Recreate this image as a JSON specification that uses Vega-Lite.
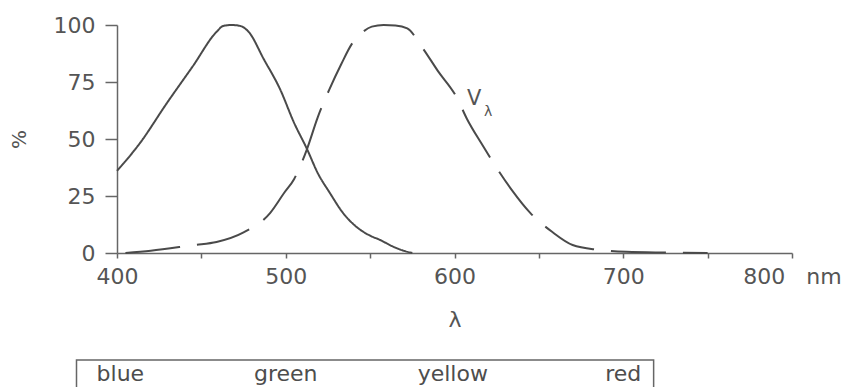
{
  "$schema": "https://vega.github.io/schema/vega-lite/v6.json",
  "width": 675,
  "height": 228,
  "autosize": {"type": "none"},
  "padding": {"left": 117, "top": 25, "right": 50, "bottom": 134},
  "background": "white",
  "view": {"stroke": null},
  "config": {
    "font": "DejaVu Sans",
    "axis": {"grid": false, "domainColor": "#666", "tickColor": "#666", "labelColor": "#555", "titleColor": "#555", "labelFont": "DejaVu Sans", "titleFont": "DejaVu Sans", "titleFontWeight": "normal", "domainWidth": 1.5, "tickWidth": 1.5}
  },
  "datasets": {
    "curves": [
      {"nm": 400, "pct": 36, "curve": "blue cones"},
      {"nm": 413.6, "pct": 48.2, "curve": "blue cones"},
      {"nm": 429.6, "pct": 65.8, "curve": "blue cones"},
      {"nm": 445, "pct": 82, "curve": "blue cones"},
      {"nm": 459, "pct": 97, "curve": "blue cones"},
      {"nm": 463, "pct": 99.6, "curve": "blue cones"},
      {"nm": 468, "pct": 100, "curve": "blue cones"},
      {"nm": 473, "pct": 99.6, "curve": "blue cones"},
      {"nm": 478, "pct": 97, "curve": "blue cones"},
      {"nm": 487, "pct": 85, "curve": "blue cones"},
      {"nm": 496.6, "pct": 71.9, "curve": "blue cones"},
      {"nm": 505, "pct": 57, "curve": "blue cones"},
      {"nm": 512.6, "pct": 45.6, "curve": "blue cones"},
      {"nm": 519, "pct": 35, "curve": "blue cones"},
      {"nm": 526, "pct": 26.5, "curve": "blue cones"},
      {"nm": 534, "pct": 17.5, "curve": "blue cones"},
      {"nm": 542, "pct": 11.4, "curve": "blue cones"},
      {"nm": 550, "pct": 7.6, "curve": "blue cones"},
      {"nm": 556, "pct": 5.7, "curve": "blue cones"},
      {"nm": 563, "pct": 3, "curve": "blue cones"},
      {"nm": 569, "pct": 1.2, "curve": "blue cones"},
      {"nm": 575, "pct": 0, "curve": "blue cones"},
      {"nm": 405, "pct": 0, "curve": "V"},
      {"nm": 420, "pct": 1, "curve": "V"},
      {"nm": 445.6, "pct": 3.5, "curve": "V"},
      {"nm": 459, "pct": 4.8, "curve": "V"},
      {"nm": 475, "pct": 9, "curve": "V"},
      {"nm": 490.7, "pct": 17.5, "curve": "V"},
      {"nm": 499, "pct": 26.3, "curve": "V"},
      {"nm": 505, "pct": 32.5, "curve": "V"},
      {"nm": 512.6, "pct": 45.6, "curve": "V"},
      {"nm": 519, "pct": 59.6, "curve": "V"},
      {"nm": 526, "pct": 72, "curve": "V"},
      {"nm": 533, "pct": 83, "curve": "V"},
      {"nm": 539, "pct": 91.5, "curve": "V"},
      {"nm": 545, "pct": 96.5, "curve": "V"},
      {"nm": 551, "pct": 99.3, "curve": "V"},
      {"nm": 558, "pct": 100, "curve": "V"},
      {"nm": 565, "pct": 99.8, "curve": "V"},
      {"nm": 572, "pct": 98.5, "curve": "V"},
      {"nm": 581, "pct": 90, "curve": "V"},
      {"nm": 590, "pct": 80, "curve": "V"},
      {"nm": 601.5, "pct": 68, "curve": "V"},
      {"nm": 607.4, "pct": 58.8, "curve": "V"},
      {"nm": 616, "pct": 48, "curve": "V"},
      {"nm": 625.8, "pct": 36.4, "curve": "V"},
      {"nm": 634, "pct": 27.6, "curve": "V"},
      {"nm": 645, "pct": 17.5, "curve": "V"},
      {"nm": 658, "pct": 9.2, "curve": "V"},
      {"nm": 670, "pct": 3.5, "curve": "V"},
      {"nm": 685, "pct": 1.4, "curve": "V"},
      {"nm": 702, "pct": 0.5, "curve": "V"},
      {"nm": 725, "pct": 0.2, "curve": "V"},
      {"nm": 750, "pct": 0, "curve": "V"}
    ],
    "band": [{"start": 376, "end": 718}],
    "bandLabels": [
      {"label": "blue", "nm": 402},
      {"label": "green", "nm": 500},
      {"label": "yellow", "nm": 599},
      {"label": "red", "nm": 700}
    ],
    "vmain": [{"nm": 611.6, "pct": 67.5, "label": "V"}],
    "vsub": [{"nm": 620, "pct": 62, "label": "λ"}]
  },
  "layer": [
    {
      "data": {"name": "curves"},
      "mark": {"type": "line", "interpolate": "monotone", "strokeWidth": 2, "color": "#4a4a4a"},
      "encoding": {
        "x": {"field": "nm", "type": "quantitative", "scale": {"domain": [400, 800], "nice": false, "zero": false},
          "axis": {"values": [400, 450, 500, 550, 600, 650, 700, 750, 800],
            "labelExpr": "datum.value % 100 != 0 ? '' : (datum.value == 800 ? '800\u00a0\u00a0\u00a0nm' : datum.label)",
            "labelFontSize": 22, "labelPadding": 8, "tickSize": 5, "labelFlush": false, "labelOverlap": false,
            "title": "λ", "titleFontSize": 22, "titlePadding": 22}},
        "y": {"field": "pct", "type": "quantitative", "scale": {"domain": [0, 100], "nice": false},
          "axis": {"values": [0, 25, 50, 75, 100], "labelFontSize": 22, "labelPadding": 10, "tickSize": 12,
            "title": "%", "titleFontSize": 20, "titlePadding": 24}},
        "detail": {"field": "curve"},
        "strokeDash": {"field": "curve", "type": "nominal", "scale": {"domain": ["blue cones", "V"], "range": [[1, 0], [55, 17]]}, "legend": null}
      }
    },
    {
      "data": {"name": "vmain"},
      "mark": {"type": "text", "fontSize": 21, "color": "#555", "font": "DejaVu Sans"},
      "encoding": {"x": {"field": "nm", "type": "quantitative"}, "y": {"field": "pct", "type": "quantitative"}, "text": {"field": "label"}}
    },
    {
      "data": {"name": "vsub"},
      "mark": {"type": "text", "fontSize": 14, "color": "#555", "font": "DejaVu Sans"},
      "encoding": {"x": {"field": "nm", "type": "quantitative"}, "y": {"field": "pct", "type": "quantitative"}, "text": {"field": "label"}}
    },
    {
      "data": {"name": "band"},
      "mark": {"type": "rect", "fill": null, "stroke": "#666", "strokeWidth": 1.5},
      "encoding": {
        "x": {"field": "start", "type": "quantitative"},
        "x2": {"field": "end"},
        "y": {"datum": -46.9},
        "y2": {"datum": -65}
      }
    },
    {
      "data": {"name": "bandLabels"},
      "mark": {"type": "text", "fontSize": 22, "color": "#4d4d4d", "font": "DejaVu Sans", "baseline": "alphabetic"},
      "encoding": {
        "x": {"field": "nm", "type": "quantitative"},
        "y": {"datum": -56.1},
        "text": {"field": "label"}
      }
    }
  ]
}
